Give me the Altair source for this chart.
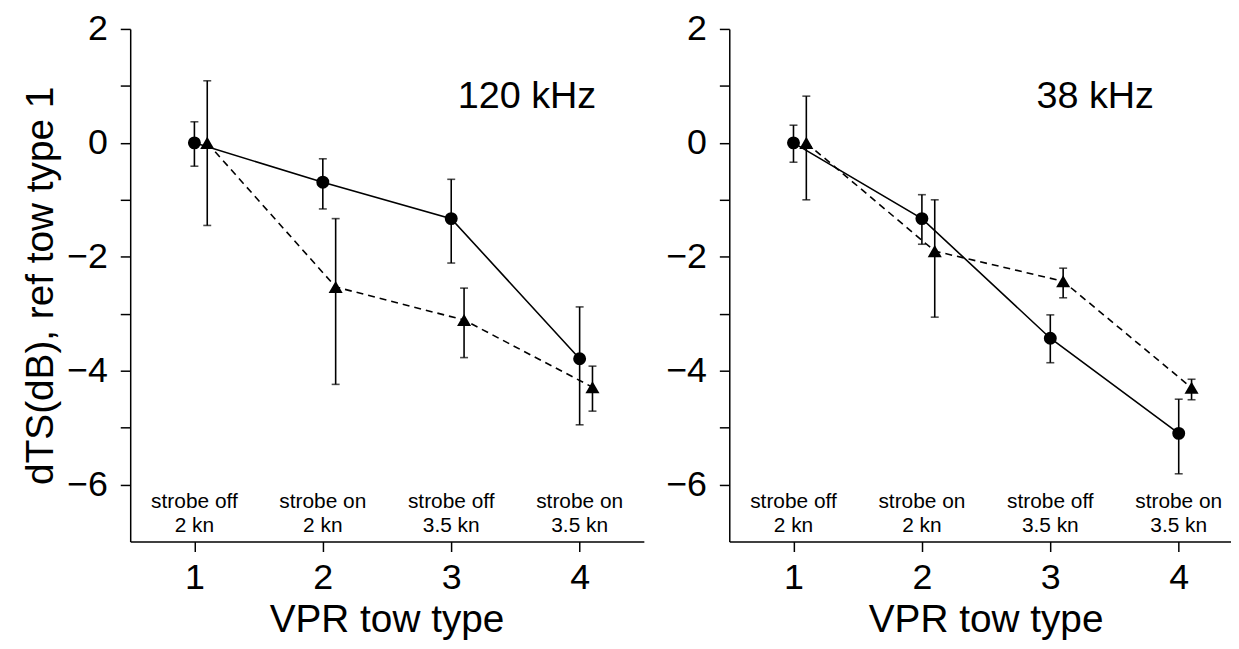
import altair as alt
import pandas as pd

FONT = "Liberation Sans"

tow = [1, 2, 3, 4]
strobe_line1 = ["strobe off", "strobe on", "strobe off", "strobe on"]
strobe_line2 = ["2 kn", "2 kn", "3.5 kn", "3.5 kn"]

# 120 kHz
c120_mean = [0.0, -0.69, -1.33, -3.79]
c120_lo = [-0.41, -1.16, -2.11, -4.95]
c120_hi = [0.37, -0.28, -0.64, -2.88]
t120_mean = [0.0, -2.53, -3.11, -4.29]
t120_lo = [-1.45, -4.24, -3.77, -4.71]
t120_hi = [1.09, -1.33, -2.55, -3.92]

# 38 kHz
c38_mean = [0.0, -1.33, -3.43, -5.10]
c38_lo = [-0.34, -1.78, -3.86, -5.81]
c38_hi = [0.31, -0.91, -3.02, -4.50]
t38_mean = [0.0, -1.90, -2.43, -4.30]
t38_lo = [-1.00, -3.06, -2.72, -4.51]
t38_hi = [0.82, -1.00, -2.20, -4.15]

TRI_SHIFT = 0.1


def make_df(mean, lo, hi, shift):
    return pd.DataFrame({
        "x": [t + shift for t in tow],
        "y": mean, "lo": lo, "hi": hi,
    })


def panel(cdf, tdf, label, label_x, width, xmax, ytitle):
    xscale = alt.Scale(domain=[0.5, xmax], nice=False, zero=False)
    yscale = alt.Scale(domain=[-7, 2], nice=False, zero=False)
    xaxis = alt.Axis(values=tow, format="d", title="VPR tow type",
                     tickSize=10, labelPadding=9, labelFontSize=36,
                     titleFontSize=39, titlePadding=6, labelFlush=False,
                     titleX=258, titleAlign="center", titleAnchor="start")
    if ytitle:
        yaxis = alt.Axis(values=list(range(-6, 3)), title="dTS(dB), ref tow type 1",
                         labelExpr="datum.value % 2 === 0 ? datum.label : ''",
                         tickSize=10, labelPadding=13, labelFontSize=36,
                         titleFontSize=39, titlePadding=6, labelFlush=False)
    else:
        yaxis = alt.Axis(values=list(range(-6, 3)), title=None,
                         labelExpr="datum.value % 2 === 0 ? datum.label : ''",
                         tickSize=10, labelPadding=13, labelFontSize=36,
                         labelFlush=False)

    def X(f="x"):
        return alt.X(f"{f}:Q", scale=xscale, axis=xaxis)

    def Y(f="y"):
        return alt.Y(f"{f}:Q", scale=yscale, axis=yaxis)

    layers = []
    cb = alt.Chart(cdf)
    tb = alt.Chart(tdf)
    layers.append(cb.mark_line(color="black", strokeWidth=1.6).encode(x=X(), y=Y()))
    layers.append(tb.mark_line(color="black", strokeWidth=1.6, strokeDash=[7, 5]).encode(x=X(), y=Y()))
    for b in (cb, tb):
        layers.append(b.mark_rule(color="black", strokeWidth=1.6).encode(
            x=X(), y=Y("lo"), y2="hi:Q"))
        layers.append(b.mark_tick(color="black", orient="horizontal", size=8, thickness=1.6).encode(
            x=X(), y=Y("lo")))
        layers.append(b.mark_tick(color="black", orient="horizontal", size=8, thickness=1.6).encode(
            x=X(), y=Y("hi")))
    layers.append(cb.mark_point(shape="circle", filled=True, color="black", size=170, opacity=1).encode(
        x=X(), y=Y()))
    layers.append(tb.mark_point(shape="triangle-up", filled=True, color="black", size=200, opacity=1).encode(
        x=X(), y=Y()))
    ldf = pd.DataFrame({"x": tow, "l1": strobe_line1, "l2": strobe_line2})
    lb = alt.Chart(ldf)
    layers.append(lb.mark_text(font=FONT, fontSize=21, color="black").encode(
        x=X(), y=alt.Y("v:Q", scale=yscale, axis=yaxis), text="l1:N").transform_calculate(v="-6.31"))
    layers.append(lb.mark_text(font=FONT, fontSize=21, color="black").encode(
        x=X(), y=alt.Y("v:Q", scale=yscale, axis=yaxis), text="l2:N").transform_calculate(v="-6.72"))
    kdf = pd.DataFrame({"x": [label_x], "y": [0.8], "t": [label]})
    layers.append(alt.Chart(kdf).mark_text(font=FONT, fontSize=38, color="black").encode(
        x=X(), y=Y(), text="t:N"))
    return alt.layer(*layers).properties(width=width, height=516)


left = panel(make_df(c120_mean, c120_lo, c120_hi, 0), make_df(t120_mean, t120_lo, t120_hi, TRI_SHIFT),
             "120 kHz", 3.59, 517, 4.5, True)
right = panel(make_df(c38_mean, c38_lo, c38_hi, 0), make_df(t38_mean, t38_lo, t38_hi, TRI_SHIFT),
              "38 kHz", 3.35, 505, 0.5 + 505 / 129.25, False)

chart = alt.hconcat(left, right, spacing=21).properties(
    padding={"left": 13, "top": 1, "right": 0, "bottom": 0}
).configure_view(stroke=None).configure_axis(
    grid=False, domainColor="black", tickColor="black", labelColor="black",
    titleColor="black", domainWidth=1.5, tickWidth=1.5, labelFont=FONT,
    titleFont=FONT, titleFontWeight="normal"
)

chart.save("out.html", embed_options={"renderer": "svg", "actions": False})
